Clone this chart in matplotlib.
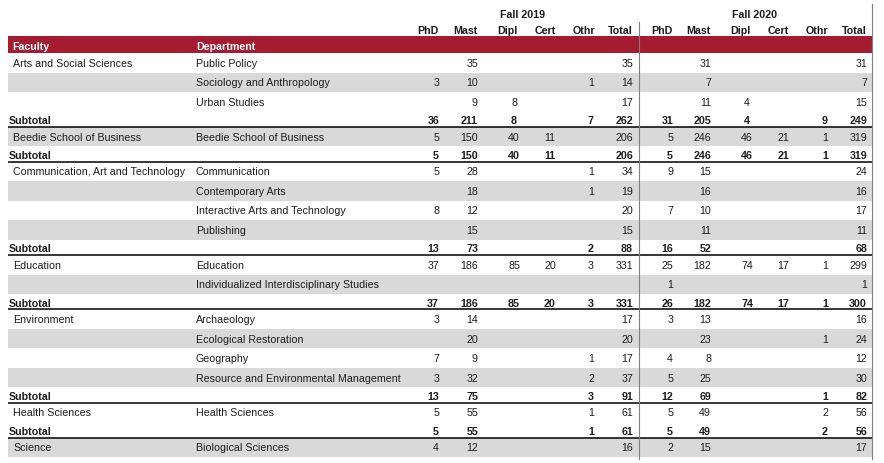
import matplotlib
matplotlib.use("Agg")
import matplotlib.pyplot as plt

N = None

# table contents
row_type = ["d", "d", "d", "s",
            "d", "s",
            "d", "d", "d", "d", "s",
            "d", "d", "s",
            "d", "d", "d", "d", "s",
            "d", "s",
            "d"]
faculty = ["Arts and Social Sciences", "", "", "",
           "Beedie School of Business", "",
           "Communication, Art and Technology", "", "", "", "",
           "Education", "", "",
           "Environment", "", "", "", "",
           "Health Sciences", "",
           "Science"]
department = ["Public Policy", "Sociology and Anthropology", "Urban Studies", "",
              "Beedie School of Business", "",
              "Communication", "Contemporary Arts", "Interactive Arts and Technology", "Publishing", "",
              "Education", "Individualized Interdisciplinary Studies", "",
              "Archaeology", "Ecological Restoration", "Geography", "Resource and Environmental Management", "",
              "Health Sciences", "",
              "Biological Sciences"]
# PhD, Mast, Dipl, Cert, Othr, Total
fall2019 = [[N, 35, N, N, N, 35], [3, 10, N, N, 1, 14], [N, 9, 8, N, N, 17], [36, 211, 8, N, 7, 262],
            [5, 150, 40, 11, N, 206], [5, 150, 40, 11, N, 206],
            [5, 28, N, N, 1, 34], [N, 18, N, N, 1, 19], [8, 12, N, N, N, 20], [N, 15, N, N, N, 15], [13, 73, N, N, 2, 88],
            [37, 186, 85, 20, 3, 331], [N, N, N, N, N, N], [37, 186, 85, 20, 3, 331],
            [3, 14, N, N, N, 17], [N, 20, N, N, N, 20], [7, 9, N, N, 1, 17], [3, 32, N, N, 2, 37], [13, 75, N, N, 3, 91],
            [5, 55, N, N, 1, 61], [5, 55, N, N, 1, 61],
            [4, 12, N, N, N, 16]]
fall2020 = [[N, 31, N, N, N, 31], [N, 7, N, N, N, 7], [N, 11, 4, N, N, 15], [31, 205, 4, N, 9, 249],
            [5, 246, 46, 21, 1, 319], [5, 246, 46, 21, 1, 319],
            [9, 15, N, N, N, 24], [N, 16, N, N, N, 16], [7, 10, N, N, N, 17], [N, 11, N, N, N, 11], [16, 52, N, N, N, 68],
            [25, 182, 74, 17, 1, 299], [1, N, N, N, N, 1], [26, 182, 74, 17, 1, 300],
            [3, 13, N, N, N, 16], [N, 23, N, N, 1, 24], [4, 8, N, N, N, 12], [5, 25, N, N, N, 30], [12, 69, N, N, 1, 82],
            [5, 49, N, N, 2, 56], [5, 49, N, N, 2, 56],
            [2, 15, N, N, N, 17]]
col_names = ["PhD", "Mast", "Dipl", "Cert", "Othr", "Total"]
terms = ["Fall 2019", "Fall 2020"]

# layout (pixels)
W, H = 884, 464
LEFT, RIGHT = 8, 872
RED = "#a51b2f"
GREY = "#d9d9d9"
TXT = "#1c1c1c"
FS = 7.7
num_x = [[(439, "right"), (478, "right"), (514, "center"), (550, "center"), (594, "right"), (633, "right")],
         [(673, "right"), (711, "right"), (747, "center"), (783, "center"), (828, "right"), (867, "right")]]
head_x = [[(439, "right"), (478, "right"), (507, "center"), (545.5, "center"), (595, "right"), (633, "right")],
          [(673, "right"), (711, "right"), (740, "center"), (778, "center"), (828, "right"), (867, "right")]]
term_x = [522, 755]

plt.rcParams["font.family"] = ["Liberation Sans", "DejaVu Sans"]
fig = plt.figure(figsize=(W / 100, H / 100), dpi=100)
ax = fig.add_axes([0, 0, 1, 1])
ax.set_xlim(0, W)
ax.set_ylim(H, 0)
ax.axis("off")

# header
for t, cx in zip(terms, term_x):
    ax.text(cx, 18, t, ha="center", va="baseline", fontsize=FS, fontweight="bold", color=TXT)
for k in range(2):
    for name, (x, ha) in zip(col_names, head_x[k]):
        ax.text(x, 34, name, ha=ha, va="baseline", fontsize=FS, fontweight="bold", color=TXT)
ax.add_patch(plt.Rectangle((LEFT, 37), RIGHT - LEFT, 17, color=RED, lw=0))
ax.text(12.5, 49.5, "Faculty", ha="left", va="baseline", fontsize=FS, fontweight="bold", color="white")
ax.text(196, 49.5, "Department", ha="left", va="baseline", fontsize=FS, fontweight="bold", color="white")

# body
y = 54
stripe = 0
for i, kind in enumerate(row_type):
    h = 19.5 if kind == "d" else 15.35
    base = y + h / 2 + (3.0 if kind == "d" else 3.8)
    bold = "bold" if kind == "s" else "normal"
    if kind == "d":
        if stripe % 2 == 1:
            ax.add_patch(plt.Rectangle((LEFT, y), RIGHT - LEFT, h, color=GREY, lw=0, zorder=0))
        stripe += 1
        ax.text(13, base, faculty[i], ha="left", va="baseline", fontsize=FS, color=TXT)
        ax.text(196, base, department[i], ha="left", va="baseline", fontsize=FS, color=TXT)
    else:
        ax.text(9, base, "Subtotal", ha="left", va="baseline", fontsize=FS, fontweight="bold", color=TXT)
    for k, vals in enumerate([fall2019[i], fall2020[i]]):
        for v, (x, ha) in zip(vals, num_x[k]):
            if v is not None:
                ax.text(x, base, str(v), ha=ha, va="baseline", fontsize=FS, fontweight=bold, color=TXT)
    y += h
    if kind == "s":
        ax.plot([LEFT, RIGHT], [y, y], color="black", lw=1.1, solid_capstyle="butt")

# vertical rules
ax.plot([639, 639], [23, y + 2], color="#808080", lw=0.8)
ax.plot([871.5, 871.5], [5, y + 2], color="#808080", lw=0.8)

fig.savefig("out.png", dpi=100)
